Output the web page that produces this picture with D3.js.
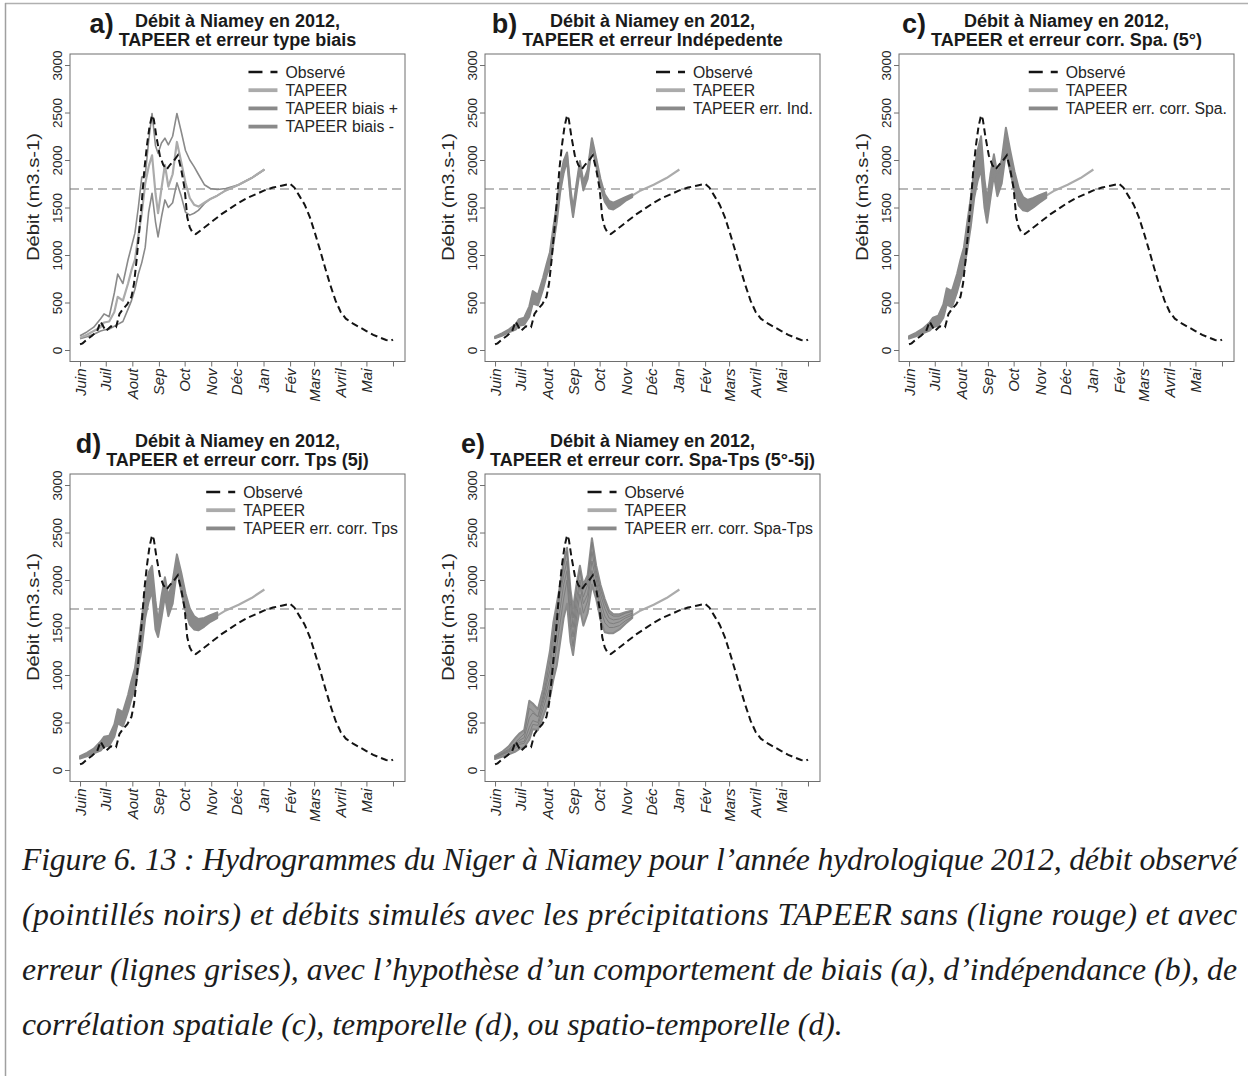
<!DOCTYPE html>
<html>
<head>
<meta charset="utf-8">
<script src="https://cdn.jsdelivr.net/npm/d3@7"></script>
<style>
  html, body { margin: 0; padding: 0; background: #fff; }
  svg { display: block; }
</style>
</head>
<body>
<svg id="chart" width="1248" height="1076"></svg>
<script>
// ---------------- DATA ----------------
const monthLabels = ["Juin", "Juil", "Aout", "Sep", "Oct", "Nov", "Déc", "Jan", "Fév", "Mars", "Avril", "Mai", ""];
const monthStartDays = [0, 30, 61, 92, 122, 153, 183, 214, 245, 273, 304, 334, 365];
const yTicks = [0, 500, 1000, 1500, 2000, 2500, 3000];
const refLevel = 1695;

// observed discharge (days since 1 June 2012)
const obsDays = [0, 3, 8, 14, 20, 24, 27, 30, 36, 42, 46, 50, 55, 60, 63, 66, 69, 72, 75, 78, 81, 84, 86, 89, 93, 97, 101, 105, 110, 114, 118, 122, 125, 128, 131, 135, 145, 155, 165, 175, 185, 195, 205, 215, 225, 235, 245, 250, 256, 262, 268, 274, 280, 286, 292, 298, 304, 310, 318, 326, 334, 342, 350, 357, 362, 365];
const obsQ = [60, 70, 110, 150, 200, 300, 250, 200, 250, 240, 380, 430, 480, 560, 700, 950, 1250, 1550, 1900, 2150, 2350, 2470, 2430, 2250, 2050, 1950, 1900, 1950, 2000, 2050, 1900, 1700, 1400, 1290, 1240, 1220, 1290, 1360, 1430, 1490, 1550, 1600, 1640, 1680, 1710, 1730, 1750, 1710, 1620, 1530, 1400, 1230, 1050, 860, 680, 520, 400, 330, 280, 240, 200, 160, 130, 105, 95, 110];

// simulated series share these days
const simDays = [0, 8, 16, 24, 28, 34, 40, 44, 50, 56, 60, 64, 68, 72, 76, 80, 84, 88, 91, 95, 99, 103, 108, 113, 118, 123, 128, 133, 138, 145, 152, 160, 170, 185, 200, 215];
const tapeerQ = [130, 160, 200, 240, 290, 300, 400, 560, 520, 700, 840, 950, 1200, 1440, 1750, 1930, 2050, 1650, 1440, 1700, 1950, 1720, 1850, 2190, 1980, 1760, 1600, 1530, 1510, 1550, 1590, 1625, 1680, 1740, 1810, 1900];

// (a) bias runs
const biaisPlusQ = [150, 190, 240, 330, 380, 350, 600, 800, 700, 950, 1090, 1230, 1500, 1820, 1830, 2200, 2490, 2150, 2070, 2180, 2230, 2160, 2250, 2490, 2300, 2100, 2000, 1930, 1850, 1740, 1700, 1690, 1700, 1740, 1810, 1900];
const biaisMinusQ = [120, 140, 165, 200, 210, 220, 250, 270, 300, 430, 520, 640, 800, 920, 1080, 1450, 1650, 1350, 1190, 1400, 1580, 1500, 1550, 1760, 1620, 1450, 1420, 1440, 1470, 1540, 1590, 1625, 1680, 1740, 1810, 1900];

// (b) independent error ensemble envelope
const indUpperQ = [140, 175, 215, 270, 325, 340, 460, 620, 580, 760, 900, 1030, 1290, 1530, 1820, 1990, 2080, 1700, 1490, 1750, 1990, 1770, 1900, 2230, 2020, 1800, 1640, 1570, 1550, 1580, 1610, 1640, null, null, null, null];
const indLowerQ = [125, 150, 185, 215, 255, 265, 350, 490, 470, 640, 780, 880, 1110, 1350, 1660, 1860, 1990, 1600, 1400, 1650, 1900, 1680, 1800, 2140, 1940, 1720, 1560, 1490, 1480, 1520, 1570, 1610, null, null, null, null];

// (c) spatially correlated error ensemble envelope
const spaUpperQ = [145, 180, 225, 290, 340, 360, 480, 650, 620, 800, 950, 1080, 1350, 1600, 1900, 2100, 2250, 1800, 1580, 1850, 2060, 1850, 2000, 2340, 2100, 1880, 1700, 1610, 1580, 1600, 1630, 1660, null, null, null, null];
const spaLowerQ = [120, 145, 175, 205, 240, 255, 340, 480, 450, 610, 740, 840, 1060, 1300, 1600, 1780, 1900, 1500, 1340, 1600, 1840, 1620, 1750, 2080, 1880, 1680, 1520, 1470, 1460, 1500, 1550, 1600, null, null, null, null];

// (d) temporally correlated error ensemble envelope
const tpsUpperQ = [145, 180, 225, 300, 350, 360, 480, 640, 610, 790, 940, 1070, 1330, 1600, 1880, 2080, 2150, 1780, 1560, 1830, 2030, 1830, 1990, 2270, 2080, 1860, 1700, 1620, 1590, 1600, 1630, 1660, null, null, null, null];
const tpsLowerQ = [120, 145, 175, 205, 245, 255, 350, 490, 460, 620, 750, 850, 1070, 1290, 1600, 1770, 1880, 1480, 1400, 1600, 1830, 1620, 1750, 2100, 1880, 1680, 1530, 1480, 1470, 1510, 1560, 1600, null, null, null, null];

// (e) spatio-temporally correlated error ensemble
const spaTpsUpperQ = [150, 190, 250, 340, 380, 420, 730, 700, 640, 850, 1050, 1250, 1550, 1750, 1950, 2200, 2340, 1900, 1700, 1950, 2150, 1950, 2050, 2440, 2150, 1950, 1800, 1680, 1640, 1640, 1660, 1680, null, null, null, null];
const spaTpsLowerQ = [115, 140, 165, 195, 220, 240, 320, 430, 420, 560, 660, 760, 950, 1100, 1350, 1600, 1750, 1350, 1210, 1500, 1700, 1520, 1650, 1950, 1800, 1580, 1450, 1440, 1440, 1480, 1540, 1600, null, null, null, null];
const spaTpsMember1Q = [140, 175, 220, 290, 330, 380, 650, 620, 560, 780, 950, 1150, 1450, 1700, 1900, 2150, 2300, 1850, 1600, 1900, 2100, 1900, 2000, 2400, 2100, 1900, 1760, 1650, 1620, 1620, 1650, 1670, null, null, null, null];
const spaTpsMember2Q = [125, 160, 200, 250, 290, 300, 450, 520, 500, 700, 830, 960, 1200, 1450, 1700, 1950, 2100, 1600, 1400, 1700, 1950, 1750, 1850, 2200, 2000, 1780, 1620, 1550, 1540, 1560, 1600, 1630, null, null, null, null];
const spaTpsMember3Q = [130, 165, 190, 230, 270, 280, 380, 480, 470, 640, 760, 880, 1080, 1300, 1550, 1800, 2000, 1500, 1300, 1600, 1850, 1650, 1780, 2100, 1920, 1700, 1550, 1500, 1500, 1520, 1570, 1610, null, null, null, null];
const spaTpsMember4Q = [135, 170, 210, 270, 310, 340, 550, 600, 560, 740, 900, 1050, 1350, 1600, 1850, 2050, 2200, 1750, 1500, 1800, 2000, 1820, 1950, 2300, 2050, 1850, 1700, 1600, 1580, 1590, 1620, 1650, null, null, null, null];

const titleLine1 = "Débit à Niamey en 2012,";
const panelLetters = ["a)", "b)", "c)", "d)", "e)"];
const panelLine2 = [
  "TAPEER et erreur type biais",
  "TAPEER et erreur Indépedente",
  "TAPEER et erreur corr. Spa. (5°)",
  "TAPEER et erreur corr. Tps (5j)",
  "TAPEER et erreur corr. Spa-Tps (5°-5j)"
];
const legendObs = "Observé";
const legendTapeer = "TAPEER";
const legendErr = [
  ["TAPEER biais +", "TAPEER biais -"],
  ["TAPEER err. Ind."],
  ["TAPEER err. corr. Spa."],
  ["TAPEER err. corr. Tps"],
  ["TAPEER err. corr. Spa-Tps"]
];
const yAxisTitle = "Débit (m3.s-1)";
const captionLines = [
  "Figure 6. 13 : Hydrogrammes du Niger à Niamey pour l’année hydrologique 2012, débit observé",
  "(pointillés noirs) et débits simulés avec les précipitations TAPEER sans (ligne rouge) et avec",
  "erreur (lignes grises), avec l’hypothèse d’un comportement de biais (a), d’indépendance (b), de",
  "corrélation spatiale (c), temporelle (d), ou spatio-temporelle (d)."
];

// ---------------- DRAWING ----------------
const svg = d3.select("#chart");
const SANS = "'Liberation Sans', Arial, Helvetica, sans-serif";
const SERIF = "'Liberation Serif', 'Times New Roman', serif";
const C_OBS = "#141414", C_TAP = "#ababab", C_ERR = "#8a8a8a", C_AXIS = "#6e6e6e", C_TXT = "#262626";

// frame lines
svg.append("line").attr("x1", 5).attr("x2", 1248).attr("y1", 3.5).attr("y2", 3.5)
  .attr("stroke", "#b0b0b0").attr("stroke-width", 1.5);
svg.append("line").attr("x1", 5.5).attr("x2", 5.5).attr("y1", 3).attr("y2", 1076)
  .attr("stroke", "#a0a0a0").attr("stroke-width", 1.5);

const BOX_W = 335, BOX_H = 307.5;
const panelPos = [
  {x0: 70, y0: 54}, {x0: 485, y0: 54}, {x0: 899, y0: 54},
  {x0: 70, y0: 474}, {x0: 485, y0: 474}
];
const ensembles = [
  null,
  {upper: indUpperQ, lower: indLowerQ, members: []},
  {upper: spaUpperQ, lower: spaLowerQ, members: []},
  {upper: tpsUpperQ, lower: tpsLowerQ, members: []},
  {upper: spaTpsUpperQ, lower: spaTpsLowerQ, members: [spaTpsMember1Q, spaTpsMember2Q, spaTpsMember3Q, spaTpsMember4Q]}
];

const defs = svg.append("defs");

panelPos.forEach((p, i) => {
  const g = svg.append("g");
  const x = d3.scaleLinear().domain([-11.7, 379]).range([p.x0, p.x0 + BOX_W]);
  const y = d3.scaleLinear().domain([-121, 3116]).range([p.y0 + BOX_H, p.y0]);
  const clipId = "clip" + i;
  defs.append("clipPath").attr("id", clipId).append("rect")
    .attr("x", p.x0).attr("y", p.y0).attr("width", BOX_W).attr("height", BOX_H);

  const plot = g.append("g").attr("clip-path", `url(#${clipId})`);
  const line = d3.line().defined(d => d[1] != null).x(d => x(d[0])).y(d => y(d[1]));
  const pairs = arr => simDays.map((d, k) => [d, arr[k]]);

  // reference dashed level
  plot.append("line")
    .attr("x1", p.x0).attr("x2", p.x0 + BOX_W).attr("y1", y(refLevel)).attr("y2", y(refLevel))
    .attr("stroke", "#a2a2a2").attr("stroke-width", 1.4).attr("stroke-dasharray", "9,5");

  if (i === 0) {
    [biaisPlusQ, biaisMinusQ].forEach(arr => {
      plot.append("path").attr("d", line(pairs(arr)))
        .attr("fill", "none").attr("stroke", C_ERR).attr("stroke-width", 1.6)
        .attr("stroke-linejoin", "round");
    });
    plot.append("path").attr("d", line(pairs(tapeerQ)))
      .attr("fill", "none").attr("stroke", C_TAP).attr("stroke-width", 2.2)
      .attr("stroke-linejoin", "round");
  } else {
    plot.append("path").attr("d", line(pairs(tapeerQ)))
      .attr("fill", "none").attr("stroke", C_TAP).attr("stroke-width", 2.2)
      .attr("stroke-linejoin", "round");
    const ens = ensembles[i];
    const area = d3.area().defined((d, k) => ens.upper[k] != null)
      .x(d => x(d)).y0((d, k) => y(ens.lower[k])).y1((d, k) => y(ens.upper[k]));
    plot.append("path").attr("d", area(simDays))
      .attr("fill", ens.members.length ? "#9c9c9c" : C_ERR)
      .attr("stroke", C_ERR).attr("stroke-width", 2).attr("stroke-linejoin", "round");
    ens.members.forEach(arr => {
      plot.append("path").attr("d", line(pairs(arr)))
        .attr("fill", "none").attr("stroke", "#7e7e7e").attr("stroke-width", 1)
        .attr("stroke-linejoin", "round");
    });
  }

  // observed
  plot.append("path").attr("d", line(obsDays.map((d, k) => [d, obsQ[k]])))
    .attr("fill", "none").attr("stroke", C_OBS).attr("stroke-width", 2)
    .attr("stroke-dasharray", "7,4");

  // box
  g.append("rect").attr("x", p.x0).attr("y", p.y0).attr("width", BOX_W).attr("height", BOX_H)
    .attr("fill", "none").attr("stroke", C_AXIS).attr("stroke-width", 1);

  // y axis
  const ya = g.append("g").attr("transform", `translate(${p.x0},0)`)
    .call(d3.axisLeft(y).tickValues(yTicks).tickSize(5).tickSizeOuter(0).tickFormat(d3.format("d")));
  ya.select(".domain").remove();
  ya.selectAll(".tick line").attr("stroke", C_AXIS);
  ya.selectAll(".tick text")
    .attr("x", null).attr("dy", null)
    .attr("transform", "translate(-8,0) rotate(-90)")
    .attr("text-anchor", "middle")
    .attr("font-family", SANS).attr("font-size", 13.5).attr("fill", C_TXT);

  // x axis
  const xa = g.append("g").attr("transform", `translate(0,${p.y0 + BOX_H})`)
    .call(d3.axisBottom(x).tickValues(monthStartDays).tickSize(5).tickSizeOuter(0)
      .tickFormat((d, k) => monthLabels[k]));
  xa.select(".domain").remove();
  xa.selectAll(".tick line").attr("stroke", C_AXIS);
  xa.selectAll(".tick text")
    .attr("y", null).attr("dy", null)
    .attr("transform", "translate(5,7) rotate(-90)")
    .attr("text-anchor", "end")
    .attr("font-family", SANS).attr("font-size", 15).attr("font-style", "italic").attr("fill", C_TXT);

  // y title
  g.append("text")
    .attr("transform", `translate(${p.x0 - 31},${p.y0 + 143}) rotate(-90)`)
    .attr("text-anchor", "middle")
    .attr("font-family", SANS).attr("font-size", 17).attr("fill", C_TXT)
    .attr("textLength", 128).attr("lengthAdjust", "spacingAndGlyphs")
    .text(yAxisTitle);

  // titles
  const cx = p.x0 + BOX_W / 2;
  g.append("text").attr("x", cx).attr("y", p.y0 - 27).attr("text-anchor", "middle")
    .attr("font-family", SANS).attr("font-weight", "bold").attr("font-size", 18).attr("fill", "#1a1a1a")
    .text(titleLine1);
  const t2 = g.append("text").attr("x", cx).attr("y", p.y0 - 8).attr("text-anchor", "middle")
    .attr("font-family", SANS).attr("font-weight", "bold").attr("font-size", 18).attr("fill", "#1a1a1a")
    .text(panelLine2[i]);
  const w2 = t2.node().getComputedTextLength();
  g.append("text").attr("x", cx - w2 / 2 - 5).attr("y", p.y0 - 21).attr("text-anchor", "end")
    .attr("font-family", SANS).attr("font-weight", "bold").attr("font-size", 27).attr("fill", "#1a1a1a")
    .text(panelLetters[i]);

  // legend
  const entries = [{label: legendObs, type: "obs"}, {label: legendTapeer, type: "tap"}]
    .concat(legendErr[i].map(l => ({label: l, type: "err"})));
  const lg = g.append("g");
  const texts = entries.map((e, k) => lg.append("text")
    .attr("y", p.y0 + 18 + k * 18.2).attr("dy", "0.35em")
    .attr("font-family", SANS).attr("font-size", 15.8).attr("fill", C_TXT)
    .text(e.label));
  const maxW = d3.max(texts, t => t.node().getComputedTextLength());
  const tx = p.x0 + BOX_W - 7 - maxW;
  texts.forEach(t => t.attr("x", tx));
  entries.forEach((e, k) => {
    const yy = p.y0 + 18 + k * 18.2;
    const l = lg.append("line").attr("x1", tx - 37).attr("x2", tx - 8).attr("y1", yy).attr("y2", yy);
    if (e.type === "obs") l.attr("stroke", C_OBS).attr("stroke-width", 2.6).attr("stroke-dasharray", "14,8");
    else if (e.type === "tap") l.attr("stroke", C_TAP).attr("stroke-width", 3.8);
    else l.attr("stroke", C_ERR).attr("stroke-width", 3.8);
  });
});

// caption
const capG = svg.append("g");
const capY = [870, 925, 980, 1035];
const probe = capG.append("text").attr("x", 22).attr("y", capY[3])
  .attr("font-family", SERIF).attr("font-style", "italic").attr("font-size", 31).attr("fill", "#1c1c1c")
  .text(captionLines[3]);
const natural = probe.node().getComputedTextLength();
const capSize = 31 * 821 / natural;
probe.attr("font-size", capSize);
captionLines.slice(0, 3).forEach((txt, k) => {
  capG.append("text").attr("x", 22).attr("y", capY[k])
    .attr("font-family", SERIF).attr("font-style", "italic").attr("font-size", capSize).attr("fill", "#1c1c1c")
    .attr("textLength", 1215).attr("lengthAdjust", "spacing")
    .text(txt);
});
</script>
</body>
</html>
